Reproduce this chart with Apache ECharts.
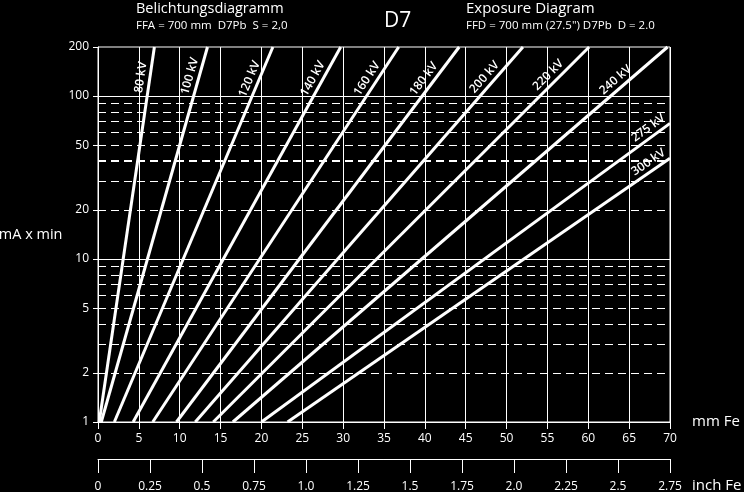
<!DOCTYPE html>
<html><head><meta charset="utf-8">
<script src="https://cdn.jsdelivr.net/npm/echarts@6/dist/echarts.min.js"></script>
<style>html,body{margin:0;padding:0;background:#000}#c{width:744px;height:492px}</style>
</head><body><div id="c"></div>
<script>
// ---- data ----
const kvLabels   = ['80 kV','100 kV','120 kV','140 kV','160 kV','180 kV','200 kV','220 kV','240 kV','275 kV','300 kV'];
const startMm    = [0.15, 0.4, 2.0, 4.3, 6.7, 9.6, 11.9, 14.1, 16.5, 20.0, 23.2]; // mm Fe at 1 mA x min
const endMm      = [6.9, 13.4, 21.4, 29.7, 36.8, 44.2, 52.0, 60.1, 69.7, 70, 70];
const endMAmin   = [200, 200, 200, 200, 200, 200, 200, 200, 200, 68, 41.5];
// where each kV label sits along its line: mA x min value (first nine) or mm Fe (last two)
const labelAnchorMA = [128, 128, 121, 120, 119, 118, 120, 123, 114, null, null];
const labelAnchorMm = [null, null, null, null, null, null, null, null, null, 68, 68];
const yTickValues   = [1, 2, 5, 10, 20, 50, 100, 200];
const dashedGrid    = [2, 3, 4, 5, 6, 7, 8, 9, 20, 30, 40, 50, 60, 70, 80, 90];
const boldDashed    = [40];
const solidGrid     = [10, 100];
const inchTickLabels = ['0','0.25','0.5','0.75','1.0','1.25','1.5','1.75','2.0','2.25','2.5','2.75'];

const FONT = "'Open Sans', sans-serif";
const W = '#ffffff';
const chart = echarts.init(document.getElementById('c'), null, {renderer: 'canvas'});

const markData = [];
dashedGrid.forEach(v => markData.push({yAxis: v, lineStyle: {type: [8, 5], width: boldDashed.includes(v) ? 2 : 1, color: W}}));
solidGrid.forEach(v => markData.push({yAxis: v, lineStyle: {type: 'solid', width: 1, color: W}}));

const series = kvLabels.map((name, i) => ({
  name, type: 'line', xAxisIndex: 0, yAxisIndex: 0,
  data: [[startMm[i], 1], [endMm[i], endMAmin[i]]],
  symbol: 'none', silent: true, z: 5,
  lineStyle: {color: W, width: 3}
}));
series.push({
  type: 'line', xAxisIndex: 0, yAxisIndex: 0, data: [], silent: true, z: 3,
  markLine: {silent: true, symbol: ['none', 'none'], label: {show: false}, animation: false, data: markData}
});

chart.setOption({
  backgroundColor: '#000',
  animation: false,
  textStyle: {fontFamily: FONT},
  title: [
    {text: 'Belichtungsdiagramm', subtext: 'FFA = 700 mm  D7Pb  S = 2,0', left: 136, top: 1, padding: 0, itemGap: 4,
     textStyle: {color: W, fontSize: 14.5, fontWeight: 'normal', fontFamily: FONT},
     subtextStyle: {color: W, fontSize: 11.5, fontFamily: FONT}},
    {text: 'D7', left: 384, top: 11, padding: 0,
     textStyle: {color: W, fontSize: 21, fontWeight: 'normal', fontFamily: FONT}},
    {text: 'Exposure Diagram', subtext: 'FFD = 700 mm (27.5") D7Pb  D = 2.0', left: 466, top: 1, padding: 0, itemGap: 4,
     textStyle: {color: W, fontSize: 15, fontWeight: 'normal', fontFamily: FONT},
     subtextStyle: {color: W, fontSize: 11.5, fontFamily: FONT}},
    {text: 'inch Fe', left: 692, top: 478, padding: 0,
     textStyle: {color: W, fontSize: 15, fontWeight: 'normal', fontFamily: FONT}}
  ],
  grid: [
    {left: 98, right: 74, top: 47, bottom: 70, show: true, borderColor: W, borderWidth: 1,
     backgroundColor: 'transparent', containLabel: false, outerBoundsMode: 'none'},
    {left: 98, right: 74, top: 458, height: 1, show: false, containLabel: false, outerBoundsMode: 'none'}
  ],
  xAxis: [
    {type: 'value', gridIndex: 0, min: 0, max: 70, interval: 5,
     name: 'mm Fe', nameLocation: 'end', nameGap: 22,
     nameTextStyle: {color: W, fontSize: 15, fontFamily: FONT, padding: [4, 0, 0, 0]},
     axisLine: {lineStyle: {color: W, width: 1}},
     axisTick: {show: true, length: 7, lineStyle: {color: W}},
     axisLabel: {color: W, fontSize: 12, margin: 11, fontFamily: FONT},
     splitLine: {show: true, lineStyle: {color: W, width: 1}}},
    {type: 'value', gridIndex: 1, min: 0, max: 2.75, interval: 0.25, position: 'bottom',
     axisLine: {lineStyle: {color: W, width: 1}},
     axisTick: {show: true, length: 14, lineStyle: {color: W}},
     axisLabel: {color: W, fontSize: 12, margin: 22, fontFamily: FONT,
                 formatter: v => inchTickLabels[Math.round(v / 0.25)]},
     splitLine: {show: false}}
  ],
  yAxis: [
    {type: 'log', logBase: 10, gridIndex: 0, min: 1, max: 200,
     name: 'mA x min', nameLocation: 'middle', nameRotate: 0, nameGap: 32,
     nameTextStyle: {color: W, fontSize: 14.5, fontFamily: FONT, padding: [9, 0, 0, 0]},
     axisLine: {show: true, lineStyle: {color: W, width: 1}},
     axisTick: {show: true, length: 5, customValues: yTickValues, lineStyle: {color: W}},
     axisLabel: {color: W, fontSize: 12, margin: 9, fontFamily: FONT, customValues: yTickValues},
     splitLine: {show: false}, minorSplitLine: {show: false}},
    {type: 'value', gridIndex: 1, show: false, min: 0, max: 1}
  ],
  series
});

// kV labels placed along each line using the chart's own coordinate conversion
const graphics = kvLabels.map((name, i) => {
  const p0 = chart.convertToPixel({gridIndex: 0}, [startMm[i], 1]);
  const p1 = chart.convertToPixel({gridIndex: 0}, [endMm[i], endMAmin[i]]);
  const th = Math.atan2(-(p1[1] - p0[1]), p1[0] - p0[0]);
  let a;
  if (labelAnchorMA[i] != null) {
    const lf = Math.log10(labelAnchorMA[i]) / Math.log10(endMAmin[i]);
    a = chart.convertToPixel({gridIndex: 0}, [startMm[i] + (endMm[i] - startMm[i]) * lf, labelAnchorMA[i]]);
  } else {
    const t = (labelAnchorMm[i] - startMm[i]) / (endMm[i] - startMm[i]);
    const ma = Math.pow(10, Math.log10(endMAmin[i]) * t);
    a = chart.convertToPixel({gridIndex: 0}, [labelAnchorMm[i], ma]);
  }
  const off = 9;
  const x = a[0] - off * Math.sin(th);
  const y = a[1] - off * Math.cos(th);
  return {type: 'text', x, y, rotation: th, z: 10,
          style: {text: name, fill: W, font: "600 12px " + FONT, align: 'center', verticalAlign: 'middle'}};
});
chart.setOption({graphic: graphics});
</script>
</body></html>
